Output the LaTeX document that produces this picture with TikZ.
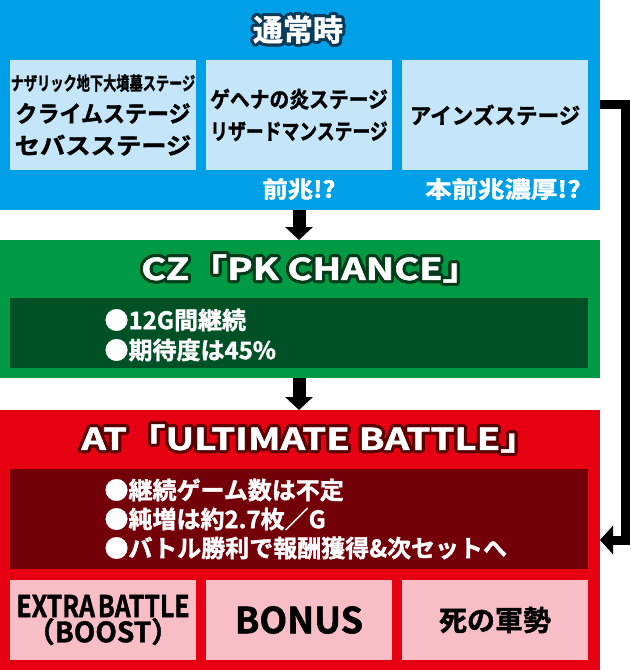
\documentclass[tikz,border=0pt]{standalone}
\usepackage{fontspec}
\setmainfont{Noto Sans CJK JP}[BoldFont={* Bold}, BoldFeatures={FakeBold=1.5}]
\usepackage{contour}
\usepackage{graphicx}
\usetikzlibrary{arrows.meta}
\contourlength{3pt}
\contournumber{32}

\definecolor{cblue}{RGB}{0,160,233}
\definecolor{clblue}{RGB}{196,230,248}
\definecolor{cdblue}{RGB}{10,60,90}
\definecolor{cgreen}{RGB}{0,153,68}
\definecolor{cdgreen}{RGB}{0,82,38}
\definecolor{codgreen}{RGB}{0,60,25}
\definecolor{cred}{RGB}{230,0,18}
\definecolor{cdred}{RGB}{115,0,8}
\definecolor{codred}{RGB}{90,0,0}
\definecolor{cpink}{RGB}{248,190,198}

\tikzset{
  panel/.style={draw=none, inner sep=0pt, outer sep=0pt, minimum width=600pt},
  stagebox/.style={fill=clblue, inner sep=0pt, outer sep=0pt, text width=186pt, minimum height=110pt, align=center, font=\bfseries\fontsize{22}{32}\selectfont},
  infobox/.style={inner sep=0pt, outer sep=0pt, minimum width=578pt, align=left},
  prizebox/.style={fill=cpink, inner sep=0pt, outer sep=0pt, text width=186pt, minimum height=80pt, align=center},
  title/.style={font=\bfseries\fontsize{30}{32}\selectfont, text=white},
  note/.style={font=\bfseries\fontsize{23}{24}\selectfont, text=white},
  bullet/.style={font=\bfseries\fontsize{24}{29}\selectfont, text=white, align=left, anchor=west},
  flow/.style={line width=13pt, -{Triangle[width=27pt,length=13pt]}},
  loop/.style={line width=9pt, -{Triangle[width=28pt,length=13pt]}},
}

\begin{document}
\begin{tikzpicture}[x=1pt, y=-1pt]
    \useasboundingbox (0,0) rectangle (630,670);

    % normal
    \node[panel, fill=cblue, minimum height=210pt] (normal) at (300,105) {};
    \node[title] (tnormal) at (298,31) {\contour{cdblue}{通常時}};
    \node[stagebox] (stageA) at (103,115) {\scalebox{0.6}[0.85]{ナザリック地下大墳墓ステージ}\\\scalebox{1.0}[1.05]{クライムステージ}\\\scalebox{1.15}[1.05]{セバスステージ}};
    \node[stagebox] (stageB) at (299,115) {\scalebox{0.9}[1]{ゲヘナの炎ステージ}\\\scalebox{0.81}[1]{リザードマンステージ}};
    \node[stagebox] (stageC) at (495,115) {\scalebox{0.98}[1]{アインズステージ}};
    \node[note] (signB) at (299,189) {\scalebox{1.1}[1]{前兆!?}};
    \node[note] (signC) at (503,189) {\scalebox{1.15}[1]{本前兆濃厚!?}};

    % cz
    \node[panel, fill=cgreen, minimum height=138pt] (cz) at (300,309) {};
    \node[title] (tcz) at (311,270) {\contour{codgreen}{\scalebox{1.27}[1]{CZ「PK CHANCE」}}};
    \node[infobox, fill=cdgreen, minimum height=70pt] (czinfo) at (299,333) {};
    \node[bullet] (cz1) at (101,320) {●12G間継続};
    \node[bullet] (cz2) at (101,350) {●期待度は45\%};

    % at
    \node[panel, fill=cred, minimum height=260pt] (at) at (300,540) {};
    \node[title] (tat) at (310,440) {\contour{codred}{\scalebox{1.28}[1]{AT「ULTIMATE BATTLE」}}};
    \node[infobox, fill=cdred, minimum height=100pt] (atinfo) at (299,519) {};
    \node[bullet] (at1) at (101,490) {●継続ゲーム数は不定};
    \node[bullet] (at2) at (101,519) {●純増は約2.7枚／G};
    \node[bullet] (at3) at (101,548) {●バトル勝利で報酬獲得\&次セットへ};
    \node[prizebox] (extra) at (103,620) {\bfseries\fontsize{30}{33}\selectfont\scalebox{0.83}[1]{EXTRA BATTLE}\\\fontsize{28}{30}\selectfont （BOOST）};
    \node[prizebox] (bonus) at (299,620) {\bfseries\fontsize{36}{36}\selectfont BONUS};
    \node[prizebox] (army) at (495,620) {\bfseries\fontsize{28}{30}\selectfont 死の軍勢};

    % connectors
    \coordinate (loopout) at (600,104);
    \coordinate (loopin) at (600,540);
    \draw[flow] (normal.south -| 299,0) -- (cz.north -| 299,0);
    \draw[flow] (cz.south -| 299,0) -- (at.north -| 299,0);
    \draw[loop] (loopout) -- (625.5,104) |- (loopin);

\end{tikzpicture}
\end{document}
